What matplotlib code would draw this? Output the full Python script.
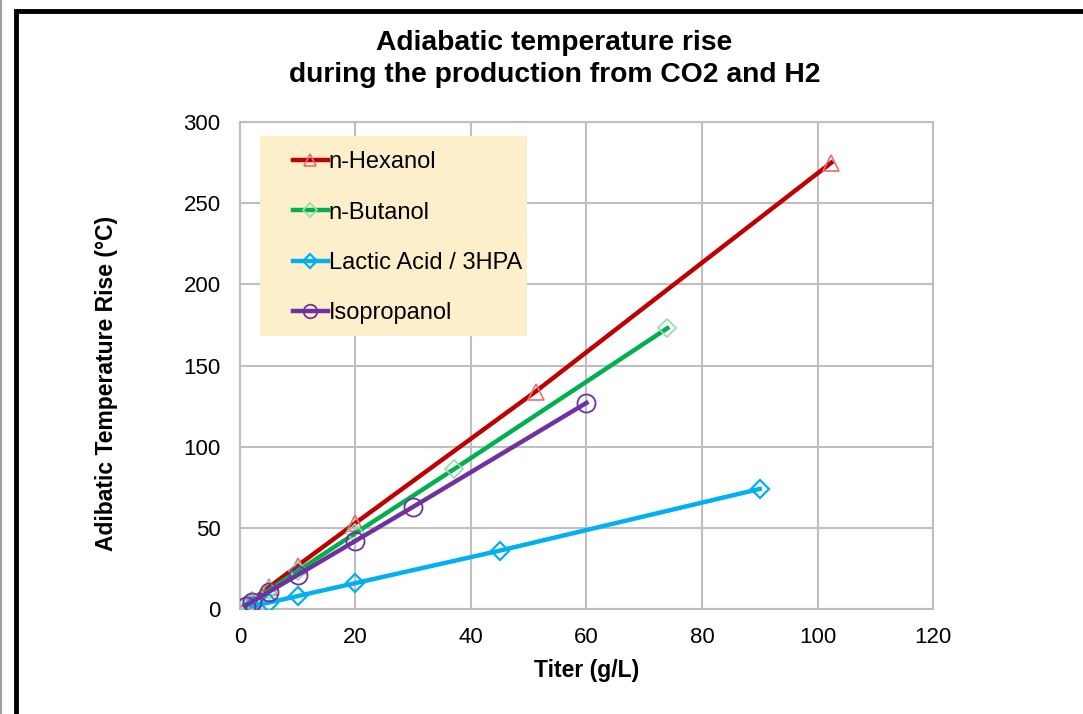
import matplotlib
matplotlib.use("Agg")
import matplotlib.pyplot as plt
from matplotlib.patches import Rectangle

plt.rcParams['font.family'] = ['Liberation Sans', 'DejaVu Sans']

# data
hex_x = [1, 2, 5, 10, 20, 51.2, 102.4]
hex_y = [2.7, 5.4, 13.4, 26.8, 53.0, 134.0, 275.0]
but_x = [1, 2, 5, 10, 20, 37, 74]
but_y = [2.3, 4.7, 11.7, 23.4, 46.8, 86.0, 173.0]
lac_x = [2, 5, 10, 20, 45, 90]
lac_y = [1.6, 4.0, 8.0, 16.0, 36.0, 74.0]
iso_x = [1, 2, 5, 10, 20, 30, 60]
iso_y = [2.1, 4.2, 10.6, 21.0, 42.0, 63.0, 127.0]

labels = ['n-Hexanol', 'n-Butanol', 'Lactic Acid / 3HPA', 'Isopropanol']
xticks = [0, 20, 40, 60, 80, 100, 120]
yticks = [0, 50, 100, 150, 200, 250, 300]

fig = plt.figure(figsize=(10.83, 7.14), dpi=100)
ax = fig.add_axes([0.2216, 0.147, 0.6399, 0.6821])

# outer black frame (only top and left visible in the original)
fig.patches.append(Rectangle((15.5 / 1083, -0.05), 1.2, 1 - 10.5 / 714 + 0.05,
                             transform=fig.transFigure, fill=False,
                             edgecolor='black', linewidth=3.5, zorder=10))
fig.add_artist(plt.Line2D([0.5 / 1083, 0.5 / 1083], [0, 1], color='#A0A0A0', lw=1.5,
                          transform=fig.transFigure))

lw = 3.2
ax.plot(hex_x, hex_y, color='#C00000', lw=lw, marker='^', ms=11, mfc='none',
        mec='#E8706F', mew=1.2, label=labels[0], zorder=3)
ax.plot(but_x, but_y, color='#00B050', lw=lw, marker='D', ms=9, mfc='none',
        mec='#8FE0A8', mew=1.2, label=labels[1], zorder=4)
ax.plot(lac_x, lac_y, color='#00B0F0', lw=lw, marker='D', ms=9, mfc='none',
        mec='#00B0F0', mew=1.6, label=labels[2], zorder=5)
ax.plot(iso_x, iso_y, color='#7030A0', lw=lw, marker='o', ms=13, mfc='none',
        mec='#7030A0', mew=1.3, label=labels[3], zorder=6)

ax.set_xlim(0, 120)
ax.set_ylim(0, 300)
ax.set_xticks(xticks)
ax.set_yticks(yticks)
ax.tick_params(length=0, labelsize=16)
ax.tick_params(axis='x', pad=13)
ax.tick_params(axis='y', pad=14)
ax.grid(True, color='#BFBFBF', lw=1.5)
ax.set_axisbelow(True)
for s in ax.spines.values():
    s.set_color('#BFBFBF')
    s.set_linewidth(1.5)

ax.set_xlabel('Titer (g/L)', fontsize=16.5, fontweight='bold', labelpad=8)
ax.set_ylabel('Adibatic Temperature Rise (°C)', fontsize=16.5, fontweight='bold')
ax.yaxis.set_label_coords(-0.176, 0.464)
fig.text(0.512, 0.917, 'Adiabatic temperature rise\nduring the production from CO2 and H2',
         ha='center', va='center', fontsize=20.3, fontweight='bold', linespacing=1.3)

# legend background drawn separately so padding can match
ax.add_patch(Rectangle((0.029, 0.56), 0.385, 0.411, transform=ax.transAxes,
                       facecolor='#FCEFCA', edgecolor='none', zorder=2.5))
leg = ax.legend(loc='upper left', bbox_to_anchor=(0.077, 0.94), frameon=False,
                fontsize=17, handlelength=1.45, handletextpad=0.05, labelspacing=1.2,
                borderpad=0, borderaxespad=0, markerscale=0.75)

fig.savefig('out.png', dpi=100)
